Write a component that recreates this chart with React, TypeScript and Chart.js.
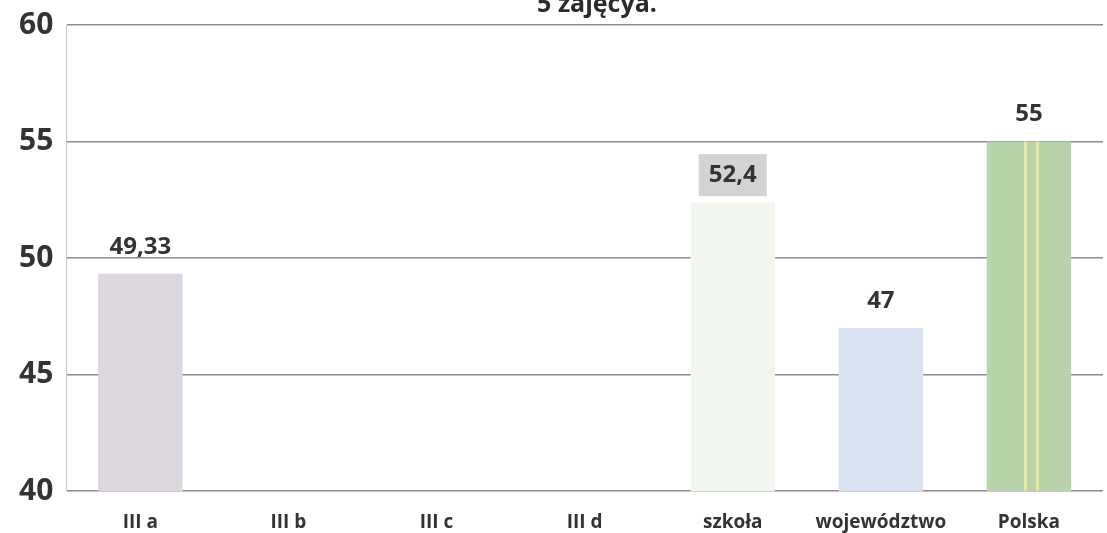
import React, { useEffect, useRef } from "react";
import { Chart, registerables } from "chart.js";

Chart.register(...registerables);

const categories = ["III a", "III b", "III c", "III d", "szkoła", "województwo", "Polska"];
const values: (number | null)[] = [49.33, null, null, null, 52.4, 47, 55];
const valueLabels = ["49,33", "", "", "", "52,4", "47", "55"];
const barColors = ["#dcd7de", "#ffffff", "#ffffff", "#ffffff", "#f1f7ef", "#d9e2f1", "#b8d2a9"];
const labelBoxes = [false, false, false, false, true, false, false];
const yTicks = [40, 45, 50, 55, 60];
const titleText = "5 zajęcya.";

export default function App() {
  const ref = useRef<HTMLCanvasElement | null>(null);
  useEffect(() => {
    document.body.style.margin = "0";
    const canvas = ref.current!;
    const labelPlugin = {
      id: "valLabels",
      afterDatasetsDraw(chart: any) {
        const ctx = chart.ctx;
        const area = chart.chartArea;
        const meta = chart.getDatasetMeta(0);
        const last = meta.data[6] as any;
        if (last) {
          ctx.save();
          ctx.fillStyle = "#e9e6a2";
          const top = last.y;
          const h = area.bottom - last.y;
          ctx.fillRect(last.x - 5, top, 3, h);
          ctx.fillRect(last.x + 7, top, 3, h);
          ctx.restore();
        }
        ctx.save();
        ctx.font = "bold 24px 'Open Sans', sans-serif";
        ctx.textAlign = "center";
        ctx.textBaseline = "middle";
        meta.data.forEach((el: any, i: number) => {
          if (values[i] == null) return;
          const x = el.x;
          const y = el.y - 27;
          if (labelBoxes[i]) {
            ctx.fillStyle = "#d3d3d3";
            ctx.fillRect(x - 34, y - 21, 68, 42);
          }
          ctx.fillStyle = "#333333";
          ctx.fillText(valueLabels[i], x, y);
        });
        ctx.font = "bold 25px 'Open Sans', sans-serif";
        ctx.textBaseline = "alphabetic";
        ctx.fillStyle = "#2b2b2b";
        ctx.fillText(titleText, 597, 12);
        ctx.restore();
      },
    };
    const chart = new Chart(canvas, {
      type: "bar",
      data: {
        labels: categories,
        datasets: [
          {
            data: values as any,
            backgroundColor: barColors,
            barPercentage: 0.57,
            categoryPercentage: 1,
          },
        ],
      },
      options: {
        animation: false,
        responsive: false,
        maintainAspectRatio: false,
        layout: { padding: { top: 8, right: 4, left: 6, bottom: -21 } },
        plugins: { legend: { display: false }, tooltip: { enabled: false }, title: { display: false } },
        scales: {
          x: {
            grid: { display: false, drawTicks: false },
            border: { display: false },
            ticks: {
              padding: 20,
              color: "#333333",
              font: { family: "'Open Sans', sans-serif", size: 19, weight: "bold" },
            },
          },
          y: {
            min: 40,
            max: 60,
            afterBuildTicks: (axis: any) => {
              axis.ticks = yTicks.map((v) => ({ value: v }));
            },
            grid: { color: "#8c8c8c", lineWidth: 1.5, drawTicks: false },
            border: { display: true, color: "#c8c8c8", width: 1 },
            ticks: {
              padding: 13,
              color: "#333333",
              font: { family: "'Open Sans', sans-serif", size: 30, weight: "bold", lineHeight: 0.8 },
            },
          },
        },
      },
      plugins: [labelPlugin],
    });
    return () => chart.destroy();
  }, []);
  return <canvas ref={ref} width={1107} height={533} style={{ display: "block" }} />;
}
